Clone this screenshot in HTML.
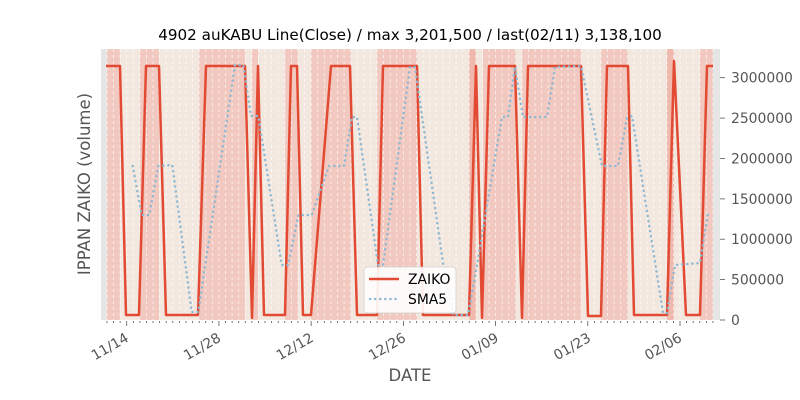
<!DOCTYPE html>
<html><head><meta charset="utf-8"><style>body{margin:0;background:#fff}svg{display:block}text{font-family:"DejaVu Sans","Liberation Sans",sans-serif}</style></head><body>
<svg width="800" height="400" viewBox="0 0 800 400" xmlns="http://www.w3.org/2000/svg">
<rect x="101" y="49" width="619" height="271" fill="#e5e5e5"/>
<g fill="#f2c9c0">
<rect x="107" y="49" width="13" height="271"/><rect x="140" y="49" width="19" height="271"/><rect x="199" y="49" width="46" height="271"/><rect x="252" y="49" width="6" height="271"/><rect x="285" y="49" width="13" height="271"/><rect x="311" y="49" width="40" height="271"/><rect x="377" y="49" width="40" height="271"/><rect x="483" y="49" width="33" height="271"/><rect x="522" y="49" width="59" height="271"/><rect x="601" y="49" width="27" height="271"/><rect x="700" y="49" width="13" height="271"/>
</g>
<g fill="#f0b9ae"><rect x="469" y="49" width="7" height="271"/><rect x="667" y="49" width="7" height="271"/></g>
<g fill="#f3e8df">
<rect x="120" y="49" width="20" height="271"/><rect x="159" y="49" width="40" height="271"/><rect x="245" y="49" width="7" height="271"/><rect x="258" y="49" width="27" height="271"/><rect x="298" y="49" width="13" height="271"/><rect x="351" y="49" width="26" height="271"/><rect x="417" y="49" width="52" height="271"/><rect x="476" y="49" width="7" height="271"/><rect x="516" y="49" width="6" height="271"/><rect x="581" y="49" width="20" height="271"/><rect x="628" y="49" width="39" height="271"/><rect x="674" y="49" width="26" height="271"/>
</g>
<g id="grid" stroke="#fff" stroke-width="0.8" stroke-dasharray="3 3" opacity="0.8"></g>
<g id="ticks" stroke="#555" stroke-width="0.8"></g>
<polyline fill="none" stroke="#e24a33" stroke-width="2.5" stroke-linejoin="round" points="106,66 120,66 126,315 139,315 146,66 159,66 166,315 198,315 206,66 245,66 252,318 258,66 264,315 285,315 291,66 297,66 303,315 311,315 331,66 350,66 357,315 377,315 383,66 417,66 423,315 469,315 476,66 482,318 489,66 515,66 522,318 528,66 581,66 588,316 601,316 607,66 628,66 634,315 667,315 674,61 686,315 700,315 707,66 713,66"/>
<polyline fill="none" stroke="#8fb8d2" stroke-width="2.5" stroke-linecap="round" stroke-dasharray="0.1 5" points="132.7,166 141.7,215 149.3,215 158.3,166 172.3,165 191.7,312 198.3,312 235,65 243.3,65 251,116 258.3,116 281.7,265 288.3,265 298.3,215 311.7,215 329,166 344,166 352,117 357,117 378,265 383,265 410,67 415,67 443,263 453,315 468,315 477,265 502,117 508,117 515,67 523,117 547,117 555,67 581,66 602,166 618,166 627,118 632,116 663,313 667,313 675,265 700,263 708,213"/>
<g fill="#555" font-size="13.9">
<text x="731" y="325">0</text><text x="731" y="284.6">500000</text><text x="731" y="244.2">1000000</text><text x="731" y="203.9">1500000</text><text x="731" y="163.5">2000000</text><text x="731" y="123.1">2500000</text><text x="731" y="82.7">3000000</text>
<g text-anchor="end">
<text transform="translate(124,331) rotate(-30)" dy="11">11/14</text>
<text transform="translate(216.3,331) rotate(-30)" dy="11">11/28</text>
<text transform="translate(309,331) rotate(-30)" dy="11">12/12</text>
<text transform="translate(401.3,331) rotate(-30)" dy="11">12/26</text>
<text transform="translate(494,331) rotate(-30)" dy="11">01/09</text>
<text transform="translate(586.3,331) rotate(-30)" dy="11">01/23</text>
<text transform="translate(677.3,331) rotate(-30)" dy="11">02/06</text>
</g></g>
<g stroke="#555" stroke-width="0.8">
<line x1="720" x2="725" y1="320" y2="320"/><line x1="720" x2="725" y1="279.6" y2="279.6"/><line x1="720" x2="725" y1="239.2" y2="239.2"/><line x1="720" x2="725" y1="198.9" y2="198.9"/><line x1="720" x2="725" y1="158.5" y2="158.5"/><line x1="720" x2="725" y1="118.1" y2="118.1"/><line x1="720" x2="725" y1="77.7" y2="77.7"/>
</g>
<text x="410" y="40" font-size="15.2" text-anchor="middle" fill="#000">4902 auKABU Line(Close) / max 3,201,500 / last(02/11) 3,138,100</text>
<text x="410" y="381" font-size="16.5" text-anchor="middle" fill="#555">DATE</text>
<text transform="translate(90,184) rotate(-90)" font-size="16.5" text-anchor="middle" fill="#555">IPPAN ZAIKO (volume)</text>
<rect x="364" y="267" width="92" height="46" rx="3" fill="#fff" stroke="#ccc" stroke-width="0.8" opacity="0.9"/>
<line x1="369" x2="399" y1="279" y2="279" stroke="#e24a33" stroke-width="2.5"/>
<line x1="370" x2="399" y1="299" y2="299" stroke="#8fb8d2" stroke-width="2.5" stroke-linecap="round" stroke-dasharray="0.1 5"/>
<text x="408" y="284" font-size="13.9" fill="#000">ZAIKO</text>
<text x="408" y="304" font-size="13.9" fill="#000">SMA5</text>
<script>
var g=document.getElementById('grid'),t=document.getElementById('ticks'),ns='http://www.w3.org/2000/svg';
for(var k=-3;k<=89;k++){var x=126.7+6.587*k;if(x<102||x>719)continue;
var l=document.createElementNS(ns,'line');l.setAttribute('x1',x);l.setAttribute('x2',x);l.setAttribute('y1',49);l.setAttribute('y2',320);g.appendChild(l);
var m=document.createElementNS(ns,'line');m.setAttribute('x1',x);m.setAttribute('x2',x);m.setAttribute('y1',321);m.setAttribute('y2',(k%14==0)?326:323);t.appendChild(m);}
</script>
</svg>
</body></html>
